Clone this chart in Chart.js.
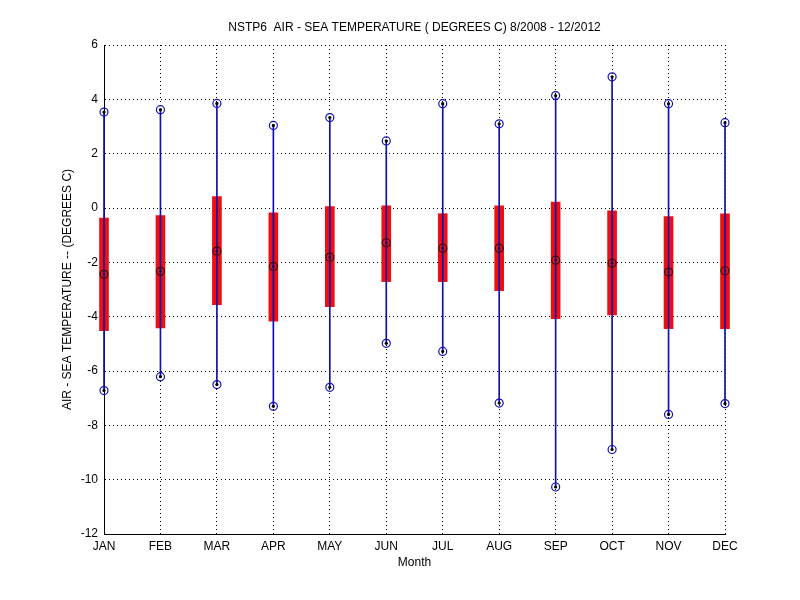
<!DOCTYPE html>
<html>
<head>
<meta charset="utf-8">
<script src="https://cdn.jsdelivr.net/npm/chart.js@4/dist/chart.umd.min.js"></script>
<style>
  html, body { margin: 0; padding: 0; background: #fff; }
  #box { width: 800px; height: 600px; }
</style>
</head>
<body>
<div id="box"><canvas id="myChart" width="800" height="600"></canvas></div>
<script>
/* 데이터 */
const months = ['JAN', 'FEB', 'MAR', 'APR', 'MAY', 'JUN', 'JUL', 'AUG', 'SEP', 'OCT', 'NOV', 'DEC'];
const maxVals = [3.53, 3.62, 3.85, 3.04, 3.33, 2.47, 3.84, 3.10, 4.14, 4.83, 3.84, 3.14];
const minVals = [-6.72, -6.21, -6.50, -7.30, -6.60, -4.98, -5.28, -7.18, -10.27, -8.89, -7.60, -7.20];
const boxHigh = [-0.37, -0.28, 0.42, -0.18, 0.05, 0.08, -0.21, 0.08, 0.22, -0.10, -0.32, -0.21];
const boxLow = [-4.52, -4.41, -3.56, -4.17, -3.63, -2.71, -2.71, -3.04, -4.07, -3.94, -4.44, -4.44];
const midVals = [-2.44, -2.33, -1.59, -2.15, -1.81, -1.28, -1.48, -1.48, -1.92, -2.03, -2.36, -2.31];
const yTicks = [-12, -10, -8, -6, -4, -2, 0, 2, 4, 6];

const titleText = 'NSTP6  AIR - SEA TEMPERATURE ( DEGREES C) 8/2008 - 12/2012';
const blue = '#1010b0';
const red = '#ee1010';

Chart.defaults.font.family = "'Liberation Sans', Arial, sans-serif";
Chart.defaults.font.size = 12;
Chart.defaults.color = '#000';

// 제목은 플롯 영역 가운데에 그림
const titlePlugin = {
  id: 'plotTitle',
  afterDraw(chart) {
    const ctx = chart.ctx;
    const area = chart.chartArea;
    ctx.save();
    ctx.fillStyle = '#000';
    ctx.font = "12px 'Liberation Sans', Arial, sans-serif";
    ctx.textAlign = 'center';
    ctx.textBaseline = 'middle';
    ctx.fillText(titleText, (area.left + area.right) / 2, 28);
    ctx.restore();
  }
};

const whisker = months.map((m, i) => ({x: i + 1, y: [minVals[i], maxVals[i]]}));
const boxes = months.map((m, i) => ({x: i + 1, y: [boxLow[i], boxHigh[i]]}));
const ends = [];
months.forEach((m, i) => {
  ends.push({x: i + 1, y: maxVals[i]});
  ends.push({x: i + 1, y: minVals[i]});
});
const mids = months.map((m, i) => ({x: i + 1, y: midVals[i]}));

const ctx = document.getElementById('myChart');
var config = {
  type: 'bar',
  data: {
    datasets: [
      {
        type: 'scatter', data: ends, order: 0, clip: false,
        pointRadius: 1.6, pointBackgroundColor: '#000', pointBorderWidth: 0
      },
      {
        type: 'scatter', data: mids, order: 0, clip: false,
        pointRadius: 1.4, pointBackgroundColor: '#101060', pointBorderWidth: 0
      },
      {
        type: 'scatter', data: ends, order: 1, clip: false,
        pointRadius: 4, pointBackgroundColor: 'rgba(0,0,0,0)', pointBorderColor: blue, pointBorderWidth: 1.2
      },
      {
        type: 'scatter', data: mids, order: 1, clip: false,
        pointRadius: 4, pointBackgroundColor: 'rgba(0,0,0,0)', pointBorderColor: '#301010', pointBorderWidth: 1.2
      },
      {
        data: whisker, order: 2, grouped: false, clip: false,
        backgroundColor: blue, barThickness: 1, borderWidth: 0
      },
      {
        data: boxes, order: 3, grouped: false, clip: false,
        backgroundColor: red, barThickness: 9, borderWidth: 0
      }
    ]
  },
  options: {
    responsive: false,
    animation: false,
    layout: { padding: { top: 45, right: 75, bottom: 0, left: 55 } },
    plugins: {
      legend: { display: false },
      tooltip: { enabled: false }
    },
    scales: {
      x: {
        type: 'linear',
        min: 1,
        max: months.length,
        offset: false,
        afterFit: (scale) => { scale.height = 66; },
        ticks: {
          stepSize: 1,
          padding: 5,
          maxRotation: 0,
          autoSkip: false,
          callback: (v) => months[v - 1]
        },
        grid: { offset: false, color: '#000', lineWidth: 1, drawTicks: false },
        border: { color: '#000', width: 1, dash: [1, 3] },
        title: { display: true, text: 'Month', padding: { top: 0, bottom: 30 } }
      },
      y: {
        min: yTicks[0],
        max: yTicks[yTicks.length - 1],
        afterFit: (scale) => { scale.width = 49; },
        ticks: { stepSize: 2, padding: 6 },
        grid: { color: '#000', lineWidth: 1, drawTicks: false },
        border: { color: '#000', width: 1, dash: [1, 3] },
        title: { display: true, text: 'AIR - SEA TEMPERATURE -- (DEGREES C)', padding: { top: 5, bottom: 0 } }
      }
    }
  },
  plugins: [titlePlugin]
};

var myChart = new Chart(ctx, config);
</script>
</body>
</html>
